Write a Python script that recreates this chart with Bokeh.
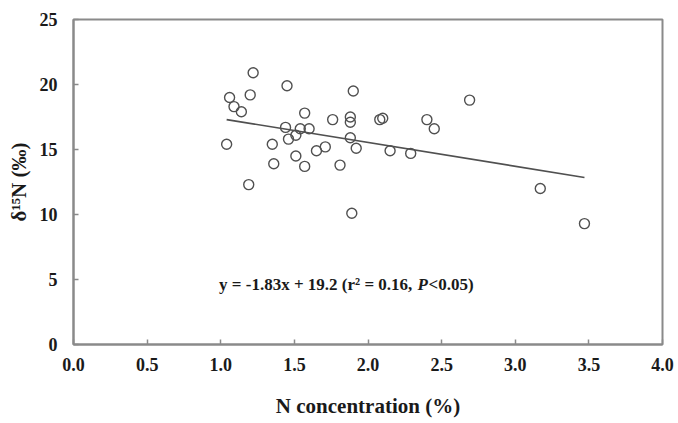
from bokeh.plotting import figure
from bokeh.models import Range1d, Label, FixedTicker
from bokeh.embed import file_html
from bokeh.resources import INLINE

# N concentration (%) and delta-15N (per mil) for each sample
n_conc = [1.04, 1.06, 1.09, 1.14, 1.19, 1.20, 1.22, 1.35, 1.36, 1.44,
          1.45, 1.46, 1.51, 1.51, 1.54, 1.57, 1.57, 1.60, 1.65, 1.71,
          1.76, 1.81, 1.88, 1.88, 1.88, 1.89, 1.90, 1.92, 2.08, 2.10,
          2.15, 2.29, 2.40, 2.45, 2.69, 3.17, 3.47]
d15n = [15.4, 19.0, 18.3, 17.9, 12.3, 19.2, 20.9, 15.4, 13.9, 16.7,
        19.9, 15.8, 14.5, 16.1, 16.6, 17.8, 13.7, 16.6, 14.9, 15.2,
        17.3, 13.8, 17.5, 17.1, 15.9, 10.1, 19.5, 15.1, 17.3, 17.4,
        14.9, 14.7, 17.3, 16.6, 18.8, 12.0, 9.3]

# linear fit reported in the annotation
slope = -1.83
intercept = 19.2

x_ticks = [0.0, 0.5, 1.0, 1.5, 2.0, 2.5, 3.0, 3.5, 4.0]
x_tick_labels = ["0.0", "0.5", "1.0", "1.5", "2.0", "2.5", "3.0", "3.5", "4.0"]
y_ticks = [0, 5, 10, 15, 20, 25]

FONT = "Liberation Serif"
AXIS_GRAY = "#8a8a8a"
MARK_GRAY = "#505050"

p = figure(width=678, height=423, output_backend="svg", toolbar_location=None,
           x_range=Range1d(0, 4), y_range=Range1d(0, 25),
           min_border_left=73, min_border_right=16,
           min_border_top=19, min_border_bottom=79)

p.xgrid.visible = False
p.ygrid.visible = False
p.outline_line_color = AXIS_GRAY
p.outline_line_width = 2

for ax in (p.xaxis[0], p.yaxis[0]):
    ax.axis_line_color = AXIS_GRAY
    ax.axis_line_width = 2
    ax.major_tick_line_color = AXIS_GRAY
    ax.major_tick_line_width = 1.5
    ax.major_tick_in = 5
    ax.major_tick_out = 0
    ax.minor_tick_line_color = None
    ax.major_label_text_font = FONT
    ax.major_label_text_font_style = "bold"
    ax.major_label_text_font_size = "18px"
    ax.major_label_text_color = "#1a1a1a"
    ax.axis_label_text_font = FONT
    ax.axis_label_text_font_style = "bold"
    ax.axis_label_text_font_size = "21px"
    ax.axis_label_text_color = "#1a1a1a"

p.xaxis.ticker = FixedTicker(ticks=x_ticks)
p.xaxis.major_label_overrides = {t: s for t, s in zip(x_ticks, x_tick_labels)}
p.yaxis.ticker = FixedTicker(ticks=y_ticks)
p.xaxis.major_label_standoff = 13
p.yaxis.major_label_standoff = 16
p.xaxis.axis_label = "N concentration (%)"
p.yaxis.axis_label = "δ¹⁵N (‰)"
p.xaxis.axis_label_standoff = 20
p.yaxis.axis_label_standoff = 6

# regression line over the sampled range
x_fit = [min(n_conc), max(n_conc)]
y_fit = [slope * v + intercept for v in x_fit]
p.line(x_fit, y_fit, line_color=MARK_GRAY, line_width=1.6)

p.scatter(n_conc, d15n, marker="circle", size=10, fill_color=None,
          line_color=MARK_GRAY, line_width=1.4)

# equation annotation, split so that P can be italic
eq_x, eq_y = 2.33, 4.6
common = dict(x=eq_x, y=eq_y, x_units="data", y_units="data",
              text_font=FONT, text_font_size="17px", text_color="#1a1a1a",
              text_baseline="middle")
p.add_layout(Label(text=f"y = {slope}x + {intercept} (r² = 0.16, ", text_align="right",
                   text_font_style="bold", **common))
p.add_layout(Label(text="P", text_align="left", x_offset=1,
                   text_font_style="bold italic", **common))
p.add_layout(Label(text="<0.05)", text_align="left", x_offset=12,
                   text_font_style="bold", **common))

open("out.html", "w").write(file_html(p, INLINE))
